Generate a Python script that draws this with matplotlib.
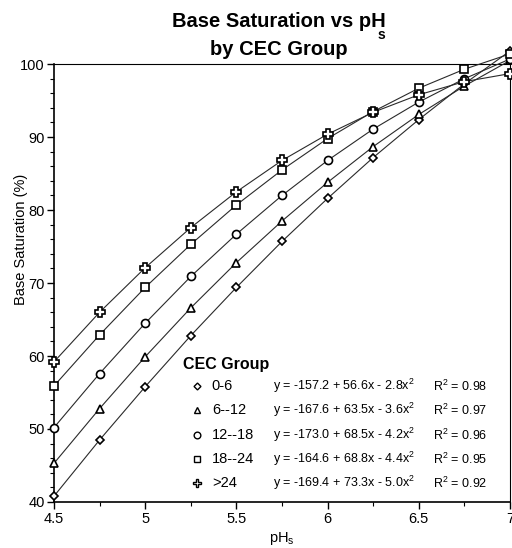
import matplotlib
matplotlib.use("Agg")
import matplotlib.pyplot as plt
from matplotlib.ticker import MultipleLocator

plt.rcParams['font.family'] = ['Liberation Sans', 'DejaVu Sans']
plt.rcParams['mathtext.fontset'] = 'custom'
plt.rcParams['mathtext.rm'] = 'Liberation Sans'
plt.rcParams['mathtext.bf'] = 'Liberation Sans:bold'
plt.rcParams['mathtext.it'] = 'Liberation Sans'

ph = [4.5, 4.75, 5.0, 5.25, 5.5, 5.75, 6.0, 6.25, 6.5, 6.75, 7.0]
bs_0_6 = [40.8, 48.5, 55.8, 62.8, 69.4, 75.7, 81.6, 87.2, 92.4, 97.3, 101.8]
bs_6_12 = [45.3, 52.8, 59.9, 66.6, 72.8, 78.5, 83.8, 88.7, 93.1, 97.0, 100.5]
bs_12_18 = [50.2, 57.6, 64.5, 70.9, 76.7, 82.0, 86.8, 91.1, 94.8, 98.0, 100.7]
bs_18_24 = [55.9, 62.9, 69.4, 75.3, 80.7, 85.5, 89.8, 93.5, 96.7, 99.3, 101.4]
bs_gt24 = [59.2, 66.0, 72.1, 77.6, 82.5, 86.8, 90.4, 93.4, 95.8, 97.6, 98.7]

groups = ['0-6', '6--12', '12--18', '18--24', '>24']
equations = ['y = -157.2 + 56.6x - 2.8x$^2$', 'y = -167.6 + 63.5x - 3.6x$^2$',
             'y = -173.0 + 68.5x - 4.2x$^2$', 'y = -164.6 + 68.8x - 4.4x$^2$',
             'y = -169.4 + 73.3x - 5.0x$^2$']
r2 = ['0.98', '0.97', '0.96', '0.95', '0.92']
series = [bs_0_6, bs_6_12, bs_12_18, bs_18_24, bs_gt24]
markers = ['D', '^', 'o', 's', 'P']
msizes = [4.5, 6, 5.8, 5.8, 7]

fig = plt.figure(figsize=(5.12, 5.48), dpi=100)
ax = fig.add_axes([0.1055, 0.084, 0.8906, 0.799])

for ys, m, ms in zip(series, markers, msizes):
    ax.plot(ph, ys, color='#2a2a2a', lw=0.8, marker=m, ms=ms, mfc='white',
            mec='black', mew=1.2, clip_on=False, zorder=3)

ax.set_xlim(4.5, 7.0)
ax.set_ylim(40, 100)
ax.xaxis.set_minor_locator(MultipleLocator(0.25))
ax.yaxis.set_major_locator(MultipleLocator(10))
ax.yaxis.set_minor_locator(MultipleLocator(2))
ax.set_xticks([4.5, 5, 5.5, 6, 6.5, 7])
ax.set_xticklabels(['4.5', '5', '5.5', '6', '6.5', '7'])
ax.tick_params(axis='both', which='major', direction='out', length=5, width=1,
               labelsize=10.5, top=False, right=False)
ax.tick_params(axis='x', which='major', pad=2)
ax.tick_params(axis='y', which='major', pad=1.5)
ax.tick_params(axis='both', which='minor', direction='out', length=3, width=0.8,
               top=False, right=False)
for sp in ax.spines.values():
    sp.set_linewidth(1.2)
ax.spines['top'].set_linewidth(0.8)
ax.spines['right'].set_linewidth(0.8)

ax.set_ylabel('Base Saturation (%)', fontsize=10.5)
ax.yaxis.set_label_coords(-0.056, 0.60)
ax.set_xlabel('pH$_s$', fontsize=10.5)
ax.xaxis.set_label_coords(0.5, -0.063)

# title with the subscript s set under the H
t1 = fig.text(0.545, 0.960, 'Base Saturation vs pH', ha='center', va='center',
              fontsize=14.5, fontweight='bold')
fig.canvas.draw()
bb = t1.get_window_extent(renderer=fig.canvas.get_renderer())
fig.text((bb.x1 - 1) / fig.bbox.width, (bb.y0 + 3.5) / fig.bbox.height, 's',
         ha='right', va='top', fontsize=10, fontweight='bold')
fig.text(0.545, 0.909, 'by CEC Group', ha='center', va='center',
         fontsize=14.5, fontweight='bold')

# legend drawn manually in axes coordinates
ax.text(0.283, 0.315, 'CEC Group', transform=ax.transAxes, fontsize=11.5,
        fontweight='bold', va='center', ha='left')
row_y = [0.265, 0.210, 0.153, 0.098, 0.043]
for i in range(5):
    yv = row_y[i]
    ax.plot([0.314], [yv], transform=ax.transAxes, marker=markers[i],
            ms=msizes[i] - 1, mfc='white', mec='black', mew=1.0, ls='none',
            clip_on=False, zorder=4)
    ax.text(0.346, yv, groups[i], transform=ax.transAxes, fontsize=10.5,
            va='center', ha='left')
    ax.text(0.480, yv, equations[i], transform=ax.transAxes, fontsize=9,
            va='center', ha='left')
    ax.text(0.831, yv, 'R$^2$ = ' + r2[i], transform=ax.transAxes, fontsize=9,
            va='center', ha='left')

fig.savefig('out.png', dpi=100)
